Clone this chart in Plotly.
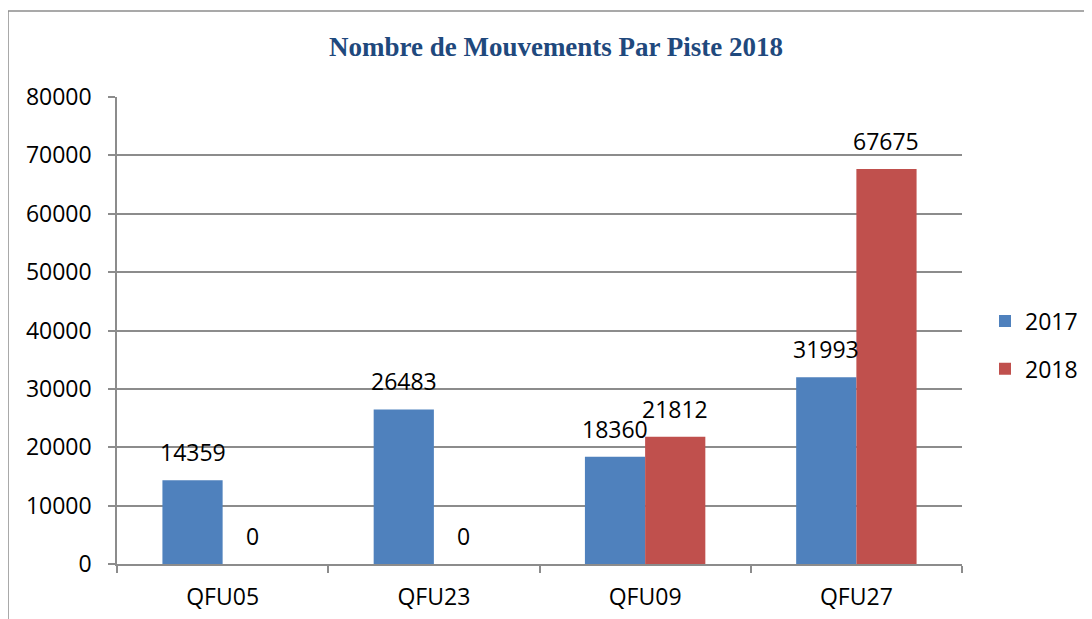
import plotly.graph_objects as go

categories = ["QFU05", "QFU23", "QFU09", "QFU27"]
series_names = ["2017", "2018"]
values_2017 = [14359, 26483, 18360, 31993]
values_2018 = [0, 0, 21812, 67675]
y_ticks = [0, 10000, 20000, 30000, 40000, 50000, 60000, 70000, 80000]

colors = ["#4F81BD", "#C0504D"]
FONT = "Open Sans"
FS = 23

fig = go.Figure()
for name, vals, col in zip(series_names, [values_2017, values_2018], colors):
    fig.add_trace(go.Bar(x=categories, y=vals, name=name, marker_color=col,
                         marker_line_width=0, legendgroup=name))

# data labels
for shift, vals in zip([-30, 30], [values_2017, values_2018]):
    for c, v in zip(categories, vals):
        fig.add_annotation(x=c, y=v, text=str(v), showarrow=False, xshift=shift,
                           yanchor="bottom", yshift=10,
                           font=dict(family=FONT, size=FS, color="black"))

OFF = 8  # page body margin
W, H = 1092 - OFF, 619 - OFF
L, R, T, B = 117 - OFF, 962 - OFF, 97 - OFF, 564 - OFF
pw, ph = R - L, B - T
def px(x):
    return (x - OFF - L) / pw
def py(y):
    return (B - (y - OFF)) / ph

frame = "#8C8C8C"
fig.add_shape(type="line", xref="paper", yref="paper", x0=px(8), x1=px(8), y0=py(640), y1=py(11),
              line=dict(color=frame, width=1.5))
fig.add_shape(type="line", xref="paper", yref="paper", x0=px(8), x1=px(1100), y0=py(11), y1=py(11),
              line=dict(color=frame, width=1.5))

fig.update_layout(
    width=W, height=H,
    margin=dict(l=L, r=W - R, t=T, b=H - B, autoexpand=False),
    paper_bgcolor="white", plot_bgcolor="white",
    barmode="group", bargap=0.43, bargroupgap=0,
    font=dict(family=FONT, size=FS, color="black"),
    title=dict(text="<b>Nombre de Mouvements Par Piste 2018</b>",
               font=dict(family="Liberation Serif", size=27, color="#1F497D"),
               x=(556 - OFF) / W, xanchor="center", xref="container",
               y=1 - (47 - OFF) / H, yanchor="middle", yref="container"),
    legend=dict(x=px(985), xanchor="left", y=py(345), yanchor="middle",
                font=dict(family=FONT, size=FS, color="black"),
                tracegroupgap=15, itemwidth=30, bgcolor="rgba(0,0,0,0)"),
    showlegend=True,
)
fig.update_xaxes(showline=True, linecolor=frame, linewidth=1.5,
                 ticks="outside", tickson="boundaries", ticklen=7, tickcolor=frame,
                 tickwidth=1.5, showgrid=False, ticklabelstandoff=12,
                 tickfont=dict(family=FONT, size=FS, color="black"))
fig.update_yaxes(range=[0, 80000], tickvals=y_ticks, ticktext=[str(t) for t in y_ticks],
                 showline=True, linecolor=frame, linewidth=1.5,
                 ticks="outside", ticklen=7, tickcolor=frame, tickwidth=1.5,
                 showgrid=True, gridcolor=frame, gridwidth=1.5, zeroline=False,
                 ticklabelstandoff=12,
                 tickfont=dict(family=FONT, size=FS, color="black"))

fig.write_html("out.html")
